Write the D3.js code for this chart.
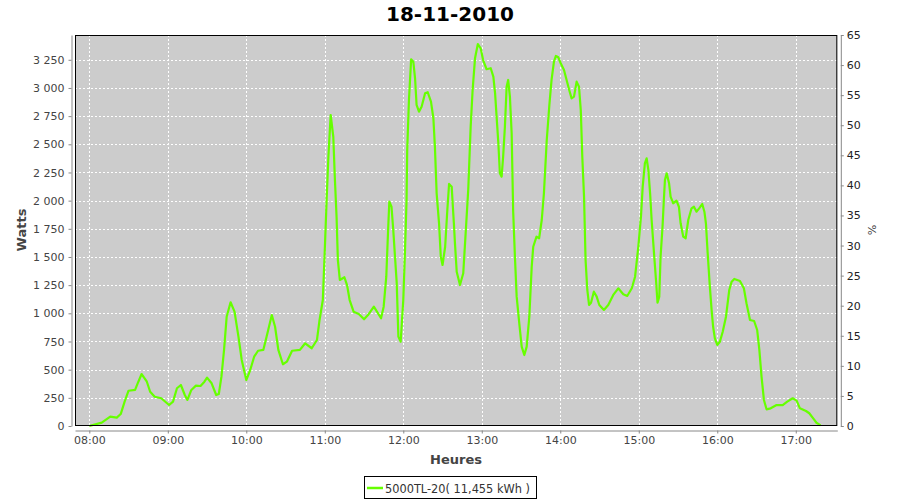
<!DOCTYPE html>
<html><head><meta charset="utf-8">
<script src="https://cdn.jsdelivr.net/npm/d3@7"></script>
<style>
body{margin:0;background:#fff;}
text{font-family:"DejaVu Sans",sans-serif;}
</style></head>
<body><svg id="c" width="900" height="500"></svg>
<script>
const title = "18-11-2010";
const seriesName = "5000TL-20( 11,455 kWh )";
const xDomain = ["07:49:04", "17:31:45"];
const leftTicks = [0,250,500,750,1000,1250,1500,1750,2000,2250,2500,2750,3000,3250];
const rightTicks = [0,5,10,15,20,25,30,35,40,45,50,55,60,65];
const times = ["08:00:00","08:09:30","08:16:00","08:21:00","08:24:00","08:27:00","08:30:00","08:35:00","08:37:30","08:40:00",
"08:44:00","08:46:30","08:50:00","08:55:00","09:01:00","09:04:00","09:07:00","09:10:00","09:13:00","09:15:00",
"09:18:00","09:21:30","09:25:00","09:28:00","09:30:00","09:33:30","09:37:00","09:39:00","09:41:00","09:43:00",
"09:45:00","09:48:00","09:51:00","09:54:00","09:56:30","10:00:00","10:03:00","10:06:00","10:09:00","10:13:00",
"10:15:30","10:19:30","10:22:00","10:24:30","10:28:00","10:31:00","10:35:00","10:41:00","10:45:00","10:50:00",
"10:54:00","10:56:00","10:58:30","11:00:00","11:01:30","11:02:45","11:04:30","11:06:30","11:07:45","11:09:00",
"11:10:00","11:11:30","11:15:00","11:17:00","11:19:00","11:22:00","11:26:00","11:30:00","11:33:00","11:37:30",
"11:43:00","11:45:00","11:47:00","11:48:30","11:49:20","11:51:00","11:52:20","11:55:00","11:56:15","11:58:00",
"12:00:00","12:01:20","12:02:30","12:03:00","12:04:20","12:06:00","12:07:40","12:09:00","12:10:10","12:12:00",
"12:14:00","12:16:40","12:18:40","12:21:10","12:23:00","12:24:10","12:25:30","12:27:20","12:28:40","12:30:00",
"12:32:00","12:33:40","12:35:00","12:37:00","12:37:40","12:38:40","12:39:30","12:40:50","12:43:20","12:45:50",
"12:47:40","12:49:40","12:51:30","12:53:00","12:54:50","12:57:00","12:59:10","13:01:00","13:03:40","13:06:50",
"13:08:50","13:10:10","13:11:20","13:12:40","13:13:50","13:15:10","13:16:20","13:17:40","13:19:00","13:20:10",
"13:21:30","13:22:50","13:24:00","13:25:20","13:26:40","13:28:40","13:30:30","13:32:30","13:34:20","13:36:20",
"13:38:10","13:39:20","13:41:50","13:43:50","13:45:50","13:47:30","13:49:40","13:51:40","13:53:20","13:55:10",
"13:56:40","13:58:30","14:00:20","14:02:50","14:04:50","14:06:50","14:08:40","14:10:30","14:12:30","14:14:20",
"14:15:40","14:16:50","14:18:10","14:19:20","14:20:40","14:22:00","14:23:30","14:25:40","14:27:50","14:29:50",
"14:33:20","14:36:40","14:40:30","14:44:20","14:48:10","14:51:10","14:54:40","14:57:10","14:59:40","15:01:40",
"15:03:00","15:04:40","15:06:00","15:07:20","15:08:40","15:09:50","15:11:50","15:13:10","15:14:20","15:15:40",
"15:16:40","15:18:10","15:19:10","15:20:00","15:21:20","15:23:10","15:24:20","15:26:20","15:28:50","15:30:40",
"15:32:00","15:34:00","15:35:50","15:37:50","15:40:20","15:42:10","15:44:10","15:46:10","15:48:30","15:50:10",
"15:51:20","15:52:40","15:54:20","15:55:40","15:56:50","15:58:10","16:00:00","16:02:00","16:04:10","16:06:40",
"16:09:10","16:11:00","16:13:00","16:17:20","16:20:20","16:22:20","16:25:00","16:28:10","16:30:30","16:32:10",
"16:33:50","16:35:40","16:37:40","16:40:50","16:45:20","16:50:00","16:53:30","16:57:40","17:00:40","17:03:10",
"17:07:50","17:10:20","17:13:20","17:15:50","17:19:00"];
const watts = [0,30,83,74,106,216,313,320,393,461,
393,304,260,246,186,216,335,364,275,231,
320,358,355,393,429,379,275,284,438,675,
970,1098,1015,793,586,408,497,615,668,675,
793,985,881,675,548,571,668,675,734,690,
763,941,1118,1562,2035,2390,2760,2567,2183,1857,
1473,1296,1320,1251,1118,1015,994,947,985,1059,
956,1059,1325,1769,1991,1946,1740,1266,793,748,
1118,1562,2006,2450,2893,3254,3233,3086,2849,2790,
2834,2953,2962,2878,2731,2479,2065,1799,1503,1429,
1591,1917,2148,2124,1991,1799,1621,1369,1251,1355,
1710,2100,2656,2982,3263,3390,3352,3248,3166,3175,
3100,2953,2745,2509,2243,2213,2390,2656,3011,3071,
2923,2598,1902,1503,1148,911,704,630,704,970,
1414,1591,1680,1666,1828,2065,2538,2850,3071,3233,
3284,3272,3219,3160,3071,2982,2908,2923,3056,3011,
2804,2390,2035,1473,1207,1074,1094,1192,1148,1074,
1030,1074,1163,1222,1169,1154,1222,1325,1591,1857,
2124,2331,2376,2272,2065,1828,1503,1296,1094,1148,
1503,1769,2006,2183,2243,2154,2035,1976,2000,1946,
1799,1680,1666,1828,1932,1946,1902,1932,1970,1902,
1799,1533,1237,1030,881,778,719,748,837,970,
1207,1281,1305,1287,1222,1089,941,932,852,675,
438,231,148,157,186,186,216,246,225,157,
133,113,68,29,6];

const svg = d3.select("#c");
const L = 75, R = 837.3, T = 35, B = 426;
const parse = d3.timeParse("%H:%M:%S");
const data = times.map((t,i)=>({t:parse(t), v:watts[i]}));

const x = d3.scaleTime().domain(xDomain.map(parse)).range([L,R]);
const y = d3.scaleLinear().domain([0,3470]).range([B,T]);
const y2 = d3.scaleLinear().domain([0,65]).range([B,T]);

// title
svg.append("text").attr("x",450).attr("y",21).attr("text-anchor","middle")
  .attr("font-size",20).attr("font-weight","bold").attr("fill","#000").text(title);

// plot background
svg.append("rect").attr("x",L).attr("y",T).attr("width",R-L).attr("height",B-T).attr("fill","#cccccc");

// gridlines
const hourTicks = x.ticks(d3.timeHour.every(1));
svg.append("g").selectAll("line").data(hourTicks).join("line")
  .attr("x1",d=>Math.round(x(d))+0.5).attr("x2",d=>Math.round(x(d))+0.5)
  .attr("y1",T).attr("y2",B).attr("stroke","#fff").attr("stroke-dasharray","2,2");
svg.append("g").selectAll("line").data(leftTicks).join("line")
  .attr("x1",L).attr("x2",R)
  .attr("y1",d=>Math.round(y(d))+0.5).attr("y2",d=>Math.round(y(d))+0.5)
  .attr("stroke","#fff").attr("stroke-dasharray","2,2");

// line
svg.append("path").datum(data)
  .attr("d", d3.line().x(d=>x(d.t)).y(d=>y(d.v)))
  .attr("fill","none").attr("stroke","#66ff00").attr("stroke-width",2.2)
  .attr("stroke-linejoin","round");

// plot border
svg.append("rect").attr("x",L+0.5).attr("y",T+0.5).attr("width",R-L-1).attr("height",B-T-1)
  .attr("fill","none").attr("stroke","#000").attr("stroke-width",1);

// axes
const fmtW = d => d3.format(",")(d).replace(/,/g," ");
const gL = svg.append("g").attr("transform",`translate(${L-3.5},0)`)
  .call(d3.axisLeft(y).tickValues(leftTicks).tickFormat(fmtW).tickSize(3).tickSizeOuter(0).tickPadding(4));
const gB = svg.append("g").attr("transform",`translate(0,${B+4.5})`)
  .call(d3.axisBottom(x).ticks(d3.timeHour.every(1)).tickFormat(d3.timeFormat("%H:%M")).tickSize(3).tickSizeOuter(0).tickPadding(3));
const gR = svg.append("g").attr("transform",`translate(${R+3.5},0)`)
  .call(d3.axisRight(y2).tickValues(rightTicks).tickSize(3).tickSizeOuter(0).tickPadding(3));
[gL,gB,gR].forEach(g=>{
  g.select(".domain").attr("stroke","#888");
  g.selectAll(".tick line").attr("stroke","#888");
  g.selectAll(".tick text").attr("font-family","DejaVu Sans").attr("font-size",11).attr("fill","#444");
});
gR.selectAll(".tick text").attr("fill","#222");

// axis labels
svg.append("text").attr("transform","translate(26,230) rotate(-90)").attr("text-anchor","middle")
  .attr("font-size",13).attr("font-weight","bold").attr("fill","#444").text("Watts");
svg.append("text").attr("x",456).attr("y",464).attr("text-anchor","middle")
  .attr("font-size",13).attr("font-weight","bold").attr("fill","#444").text("Heures");
svg.append("text").attr("transform","translate(868,230) rotate(90)").attr("text-anchor","middle")
  .attr("font-size",11).attr("fill","#444").text("%");

// legend
const lg = svg.append("g");
lg.append("rect").attr("x",364.5).attr("y",476.5).attr("width",172).attr("height",22)
  .attr("fill","#fff").attr("stroke","#000");
lg.append("line").attr("x1",367).attr("x2",383).attr("y1",488).attr("y2",488)
  .attr("stroke","#66ff00").attr("stroke-width",2.5);
lg.append("text").attr("x",385).attr("y",492.5).attr("font-size",12)
  .attr("textLength",145).attr("lengthAdjust","spacingAndGlyphs")
  .attr("fill","#333").text(seriesName);
</script></body></html>
